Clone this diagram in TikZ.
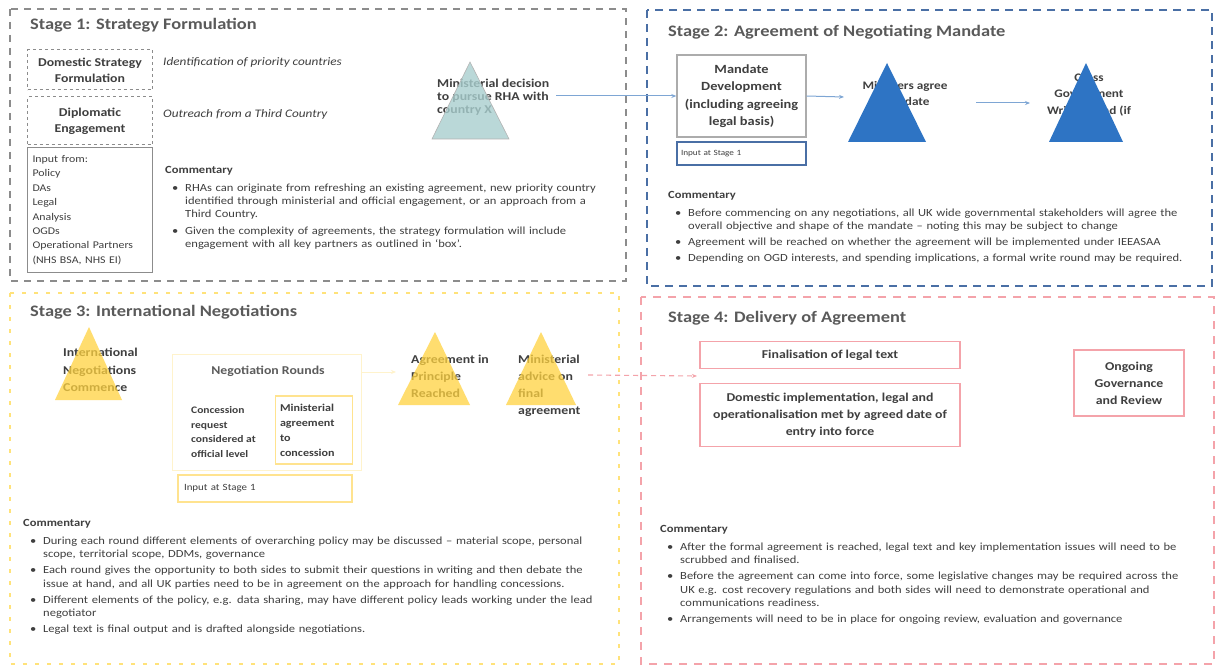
\documentclass[tikz,border=0pt]{standalone}
\usepackage{fontspec}
\setmainfont{Carlito}[FakeStretch=1.15]
\usetikzlibrary{arrows.meta}
\definecolor{txt}{HTML}{3F3F3F}
\definecolor{frameA}{HTML}{8C8C8C}
\definecolor{frameB}{HTML}{4A6FA5}
\definecolor{frameC}{HTML}{FFE27A}
\definecolor{frameD}{HTML}{F4A3AA}
\definecolor{triA}{HTML}{A9CFCF}
\definecolor{triB}{HTML}{2E74C4}
\definecolor{triC}{HTML}{FFD23F}
\definecolor{arrB}{HTML}{7EA6D4}
\definecolor{boxC}{HTML}{FFE38F}
\definecolor{faintC}{HTML}{FFF3CC}
\definecolor{stA}{HTML}{5A5A5A}
\newcommand{\bul}[1]{\par\noindent\hspace*{7pt}\makebox[13pt][l]{\textbullet}\begin{tabular}[t]{@{}l@{}}#1\end{tabular}\par}
\newcommand{\commhead}{\noindent\textbf{Commentary}\par\vspace{3pt}}
\tikzset{
  stitle/.style={anchor=west, inner sep=0pt, text=stA, font=\fontsize{16}{18}\selectfont\bfseries},
  comm/.style={anchor=north west, inner sep=0pt, align=left, text=txt, text width=#1,
    font=\fontsize{10.9}{13.2}\selectfont\setlength{\parskip}{2pt}},
  boxA/.style={draw=frameA, line width=1pt, align=center, text=txt, inner sep=1pt,
    font=\fontsize{12}{16}\selectfont\bfseries, minimum width=125pt},
  boxB/.style={line width=1.4pt, text=txt, inner sep=1pt,
    font=\fontsize{12.5}{17.5}\selectfont\bfseries, minimum width=129pt},
  boxC/.style={draw=boxC, line width=1.6pt, text=txt, inner sep=2pt,
    font=\fontsize{10.5}{15}\selectfont\bfseries},
  boxD/.style={draw=frameD, line width=1.4pt, text=txt, inner sep=1pt, align=center,
    font=\fontsize{12}{17}\selectfont\bfseries},
  tritext/.style={inner sep=0pt, align=left, text=txt, font=\fontsize{12}{14}\selectfont\bfseries},
  conn/.style={arrB, line width=1pt, -{Stealth[length=5pt,width=4pt]}}
}
\begin{document}
\begin{tikzpicture}[x=1pt,y=-1pt]
\useasboundingbox[fill=white] (0,0) rectangle (1218,671);

% ---------- stage frames
\draw[frameA, line width=1.4pt, dash pattern=on 7pt off 6pt] (10,9) rectangle (626,281);
\draw[frameB, line width=1.6pt, dash pattern=on 8pt off 6pt] (647,10) rectangle (1212,286);
\draw[frameC, line width=1.6pt, dash pattern=on 4pt off 8pt] (10,293) rectangle (619,664);
\draw[frameD, line width=1.4pt, dash pattern=on 8pt off 7pt] (641,297) rectangle (1214,664);

% ---------- Stage 1
\node[stitle] (t1) at (30,25) {Stage 1: Strategy Formulation};
\node[boxA, dashed, minimum height=40pt] (dsf) at (90,70) {Domestic Strategy\\Formulation};
\node[boxA, dashed, minimum height=48pt] (dip) at (90,121) {Diplomatic\\Engagement};
\node[draw=frameA, line width=1pt, minimum width=125pt, minimum height=124pt, text width=115pt,
      inner xsep=5pt, inner ysep=3pt, align=left, text=txt,
      font=\fontsize{10.3}{14.4}\selectfont] (inp) at (90,210)
  {Input from:\\Policy\\DAs\\Legal\\Analysis\\OGDs\\Operational Partners\\(NHS BSA, NHS EI)};
\node[anchor=west, inner sep=0pt, text=txt, font=\fontsize{11.5}{13}\selectfont\itshape] (idp) at (163,62) {Identification of priority countries};
\node[anchor=west, inner sep=0pt, text=txt, font=\fontsize{11.5}{13}\selectfont\itshape] (otc) at (163,114) {Outreach from a Third Country};
\node[comm=450pt] (c1) at (165,166) {\commhead
 \bul{RHAs can originate from refreshing an existing agreement, new priority country\\identified through ministerial and official engagement, or an approach from a\\Third Country.}
 \bul{Given the complexity of agreements, the strategy formulation will include\\engagement with all key partners as outlined in `box'.}};

\node[tritext, anchor=west, font=\fontsize{12}{13.2}\selectfont\bfseries] (mdec) at (437,97) {Ministerial decision\\to pursue RHA with\\country X};
\fill[triA, fill opacity=0.8, draw=gray!60, line width=0.6pt] (470,62) -- (509,139) -- (432,139) -- cycle;
\coordinate (a1s) at (556,96);

% ---------- Stage 2
\node[stitle] (t2) at (668,32) {Stage 2: Agreement of Negotiating Mandate};
\node[boxB, draw=gray!65, align=center, minimum height=82pt] (mand) at (741.5,96)
  {Mandate\\Development\\(including agreeing\\legal basis)};
\node[boxB, draw=frameB, minimum height=23pt, text width=121pt, align=left, inner xsep=4pt,
      font=\fontsize{8}{10}\selectfont] (in2) at (741.5,153.5) {Input at Stage 1};
\draw[conn] (a1s) -- (mand.west);

\node[tritext, align=center, font=\fontsize{11.5}{16}\selectfont\bfseries] (mag) at (905,94) {Ministers agree\\mandate};
\fill[triB] (887,63) -- (926,142) -- (848,142) -- cycle;
\coordinate (tb1) at (844,97);
\draw[conn] (mand.east) -- (tb1);

\node[tritext, align=center, font=\fontsize{11.5}{16.5}\selectfont\bfseries] (cgw) at (1089,95) {Cross\\Government\\Write Round (if};
\fill[triB] (1086,63) -- (1123,142) -- (1049,142) -- cycle;
\coordinate (a2s) at (976,103);
\coordinate (a2e) at (1030,103);
\draw[conn] (a2s) -- (a2e);

\node[comm=530pt] (c2) at (668,191) {\commhead
 \bul{Before commencing on any negotiations, all UK wide governmental stakeholders will agree the\\overall objective and shape of the mandate -- noting this may be subject to change}
 \bul{Agreement will be reached on whether the agreement will be implemented under IEEASAA}
 \bul{Depending on OGD interests, and spending implications, a formal write round may be required.}};

% ---------- Stage 3
\node[stitle] (t3) at (30,312) {Stage 3: International Negotiations};
\node[tritext, font=\fontsize{12}{17.5}\selectfont\bfseries, anchor=west] (inc) at (63,370) {International\\Negotiations\\Commence};
\fill[triC, fill opacity=0.75] (89,327) -- (122,400) -- (55,400) -- cycle;

\node[draw=faintC, line width=1pt, minimum width=189pt, minimum height=116pt] (rnd) at (266.5,412) {};
\node[inner sep=0pt, text=txt!85, font=\fontsize{12}{14}\selectfont\bfseries] (nrl) at (268,371) {Negotiation Rounds};
\node[tritext, font=\fontsize{10}{14.7}\selectfont\bfseries, anchor=west] (con) at (191,432) {Concession\\request\\considered at\\official level};
\node[boxC, minimum width=77pt, minimum height=68pt, text width=68pt, align=left] (mac) at (314,430) {Ministerial\\agreement\\to\\concession};
\node[boxC, minimum width=174pt, minimum height=27pt, text width=162pt, align=left,
      font=\fontsize{9.5}{11}\selectfont] (in3) at (265,488.5) {Input at Stage 1};

\node[tritext, font=\fontsize{12}{17}\selectfont\bfseries, anchor=west] (apr) at (411,376) {Agreement in\\Principle\\Reached};
\fill[triC, fill opacity=0.75] (435,332) -- (470,405) -- (398,405) -- cycle;
\coordinate (c2w) at (396,372);
\draw[faintC, line width=1pt, -{Stealth[length=5pt,width=4pt]}] (rnd.east |- c2w) -- (c2w);

\node[tritext, font=\fontsize{12}{17}\selectfont\bfseries, anchor=west] (mad) at (518,386) {Ministerial\\advice on\\final\\agreement};
\fill[triC, fill opacity=0.75] (541,332) -- (576,405) -- (506,405) -- cycle;

\node[comm=600pt] (c3) at (23,519) {\commhead
 \bul{During each round different elements of overarching policy may be discussed -- material scope, personal\\scope, territorial scope, DDMs, governance}
 \bul{Each round gives the opportunity to both sides to submit their questions in writing and then debate the\\issue at hand, and all UK parties need to be in agreement on the approach for handling concessions.}
 \bul{Different elements of the policy, e.g. data sharing, may have different policy leads working under the lead\\negotiator}
 \bul{Legal text is final output and is drafted alongside negotiations.}};

% ---------- Stage 4
\node[stitle] (t4) at (668,318) {Stage 4: Delivery of Agreement};
\node[boxD, minimum width=260pt, minimum height=27pt] (fin) at (830,355) {Finalisation of legal text};
\node[boxD, minimum width=260pt, minimum height=63pt] (dom) at (830,415)
  {Domestic implementation, legal and\\operationalisation met by agreed date of\\entry into force};
\node[boxD, minimum width=110pt, minimum height=66pt] (ogr) at (1129,383) {Ongoing\\Governance\\and Review};
\coordinate (pk1) at (588,375);
\coordinate (pk2) at (697,376);
\draw[frameD, line width=1.1pt, dash pattern=on 5pt off 4pt, -{Stealth[length=5pt,width=4pt]}] (pk1) -- (pk2);

\node[comm=540pt] (c4) at (660,525) {\commhead
 \bul{After the formal agreement is reached, legal text and key implementation issues will need to be\\scrubbed and finalised.}
 \bul{Before the agreement can come into force, some legislative changes may be required across the\\UK e.g. cost recovery regulations and both sides will need to demonstrate operational and\\communications readiness.}
 \bul{Arrangements will need to be in place for ongoing review, evaluation and governance}};
\end{tikzpicture}
\end{document}
